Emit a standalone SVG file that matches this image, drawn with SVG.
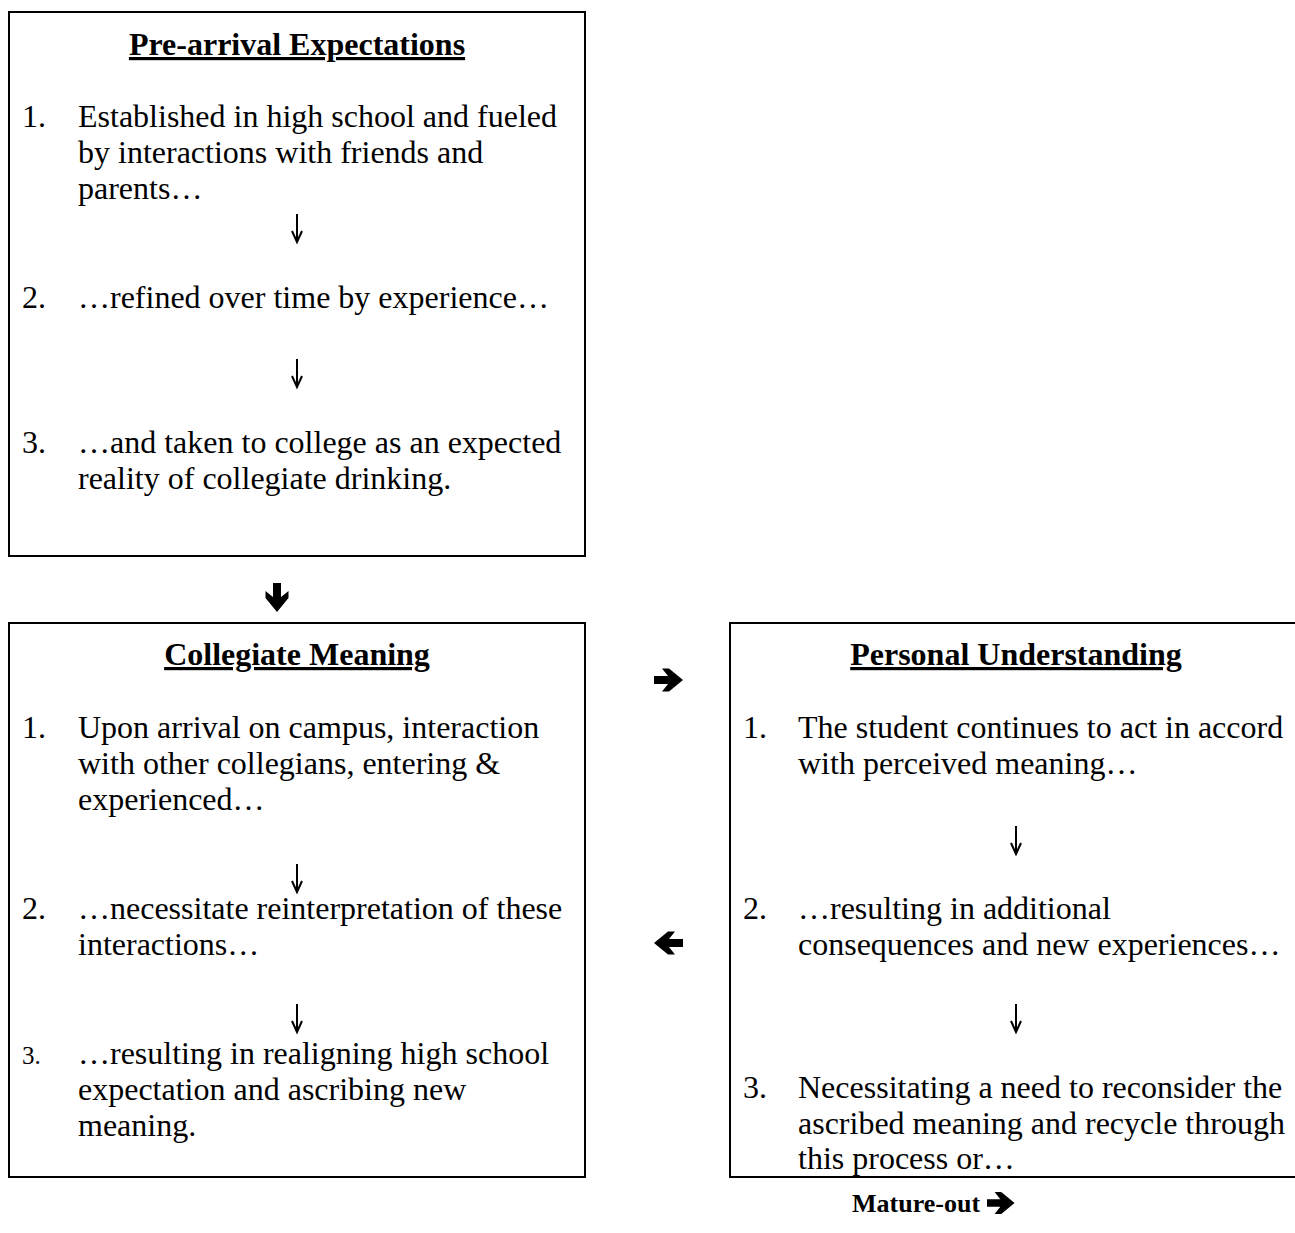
<svg xmlns="http://www.w3.org/2000/svg" width="1295" height="1233" viewBox="0 0 1295 1233">
<style>
.box{fill:#fff;stroke:#000;stroke-width:2}
text{font-family:"Liberation Serif","Times New Roman",serif;font-size:32px;fill:#000}
.title{font-weight:bold;text-decoration:underline;text-anchor:middle}
.small{font-size:25px}
.bold{font-weight:bold;font-size:26px}
.arr{fill:#000}
.thin{fill:none;stroke:#000;stroke-width:2}
</style>
<defs>
<path id="heavy" d="M0,-4 H14 L8,-11.5 H15 L29,0 L15,11.5 H8 L14,4 H0 Z"/>
<path id="thin" d="M0,0 V27 M-5,17 L0,28 L5,17"/>
</defs>
<rect width="1295" height="1233" fill="#fff"/>
<g id="node-prearrival">
<rect class="box" x="9" y="12" width="576" height="544"/>
<text class="title" x="297" y="55">Pre-arrival Expectations</text>
<text x="22" y="126.5">1.</text>
<text x="78" y="126.5">Established in high school and fueled</text>
<text x="78" y="162.75">by interactions with friends and</text>
<text x="78" y="199">parents…</text>
<text x="22" y="307.75">2.</text>
<text x="78" y="307.75">…refined over time by experience…</text>
<text x="22" y="452.75">3.</text>
<text x="78" y="452.75">…and taken to college as an expected</text>
<text x="78" y="489">reality of collegiate drinking.</text>
</g>
<g id="node-collegiate">
<rect class="box" x="9" y="623" width="576" height="554"/>
<text class="title" x="297" y="665">Collegiate Meaning</text>
<text x="22" y="737.5">1.</text>
<text x="78" y="737.5">Upon arrival on campus, interaction</text>
<text x="78" y="773.75">with other collegians, entering &amp;</text>
<text x="78" y="810">experienced…</text>
<text x="22" y="918.75">2.</text>
<text x="78" y="918.75">…necessitate reinterpretation of these</text>
<text x="78" y="955">interactions…</text>
<text class="small" x="22" y="1063.75">3.</text>
<text x="78" y="1063.75">…resulting in realigning high school</text>
<text x="78" y="1100">expectation and ascribing new</text>
<text x="78" y="1136.25">meaning.</text>
</g>
<g id="node-personal">
<rect class="box" x="730" y="623" width="580" height="554"/>
<text class="title" x="1016" y="665">Personal Understanding</text>
<text x="743" y="737.5">1.</text>
<text x="798" y="737.5">The student continues to act in accord</text>
<text x="798" y="773.75">with perceived meaning…</text>
<text x="743" y="918.75">2.</text>
<text x="798" y="918.75">…resulting in additional</text>
<text x="798" y="955">consequences and new experiences…</text>
<text x="743" y="1098">3.</text>
<text x="798" y="1098">Necessitating a need to reconsider the</text>
<text x="798" y="1134">ascribed meaning and recycle through</text>
<text x="798" y="1169">this process or…</text>
</g>
<g id="node-matureout">
<text class="bold" x="852" y="1212">Mature-out</text>
</g>
<g id="connectors">
<use href="#thin" class="thin" transform="translate(297,214)"/>
<use href="#thin" class="thin" transform="translate(297,359)"/>
<use href="#thin" class="thin" transform="translate(297,864)"/>
<use href="#thin" class="thin" transform="translate(297,1004)"/>
<use href="#thin" class="thin" transform="translate(1016,826)"/>
<use href="#thin" class="thin" transform="translate(1016,1004)"/>
<use href="#heavy" class="arr" transform="translate(277,583) rotate(90)"/>
<use href="#heavy" class="arr" transform="translate(654,680)"/>
<use href="#heavy" class="arr" transform="translate(683,943) scale(-1,1)"/>
<use href="#heavy" class="arr" transform="translate(987,1203) scale(0.95)"/>
</g>
</svg>
